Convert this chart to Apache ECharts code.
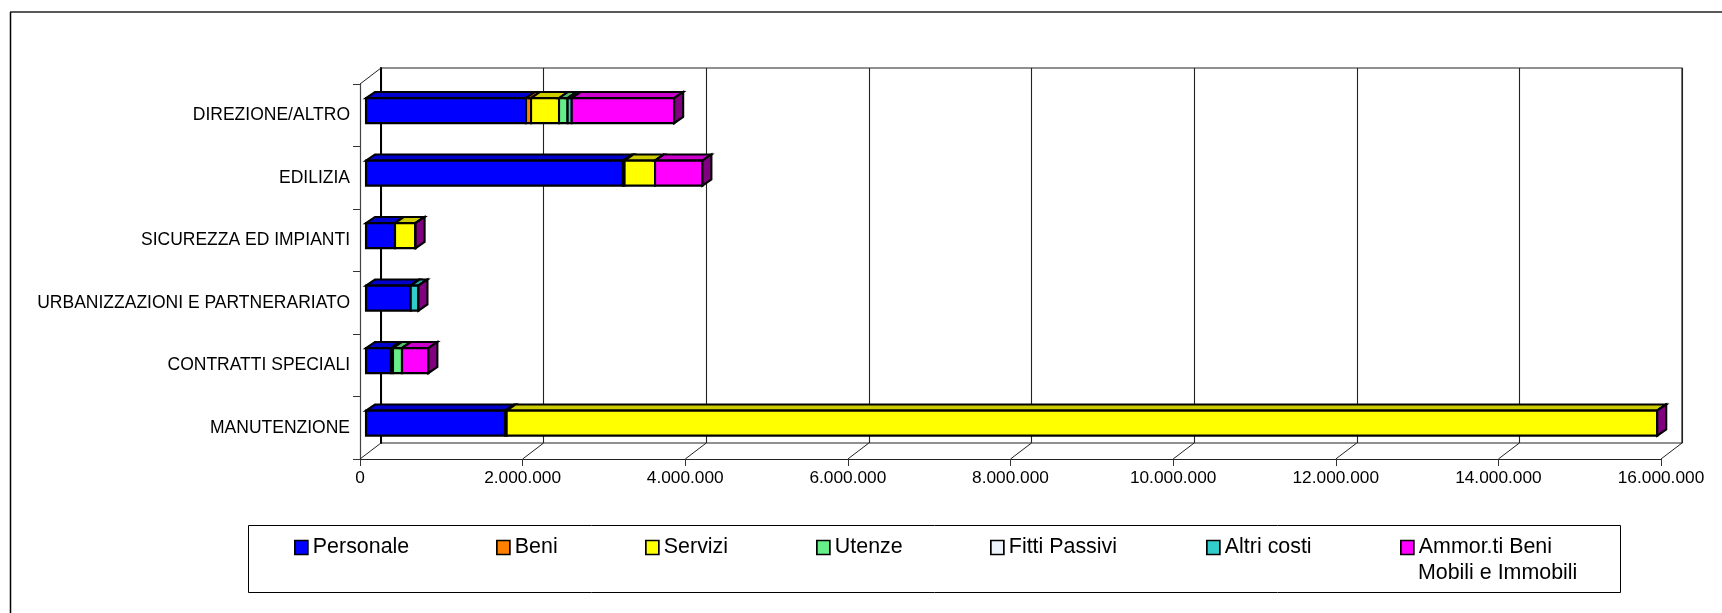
<!DOCTYPE html>
<html><head><meta charset="utf-8">
<style>html,body{margin:0;padding:0;background:#fff}#c{width:1722px;height:613px}</style>
<script src="https://cdn.jsdelivr.net/npm/echarts@6/dist/echarts.min.js"></script>
</head><body><div id="c"></div>
<script>
const categories = ['DIREZIONE/ALTRO','EDILIZIA','SICUREZZA ED IMPIANTI','URBANIZZAZIONI E PARTNERARIATO','CONTRATTI SPECIALI','MANUTENZIONE'];
const tickValues = [0,2000000,4000000,6000000,8000000,10000000,12000000,14000000,16000000];
const personale = [1968000,3160000,357000,550000,307000,1710000];
const beni      = [62000,20000,0,0,25000,20000];
const servizi   = [344000,375000,253000,0,0,14150000];
const utenze    = [106000,0,0,0,111000,0];
const fitti     = [0,0,0,0,0,0];
const altri     = [50000,0,0,95000,0,0];
const ammor     = [1260000,582000,0,0,324000,0];

const names = ['Personale','Beni','Servizi','Utenze','Fitti Passivi','Altri costi','Ammor.ti Beni Mobili e Immobili'];
const values = [personale,beni,servizi,utenze,fitti,altri,ammor];
const fronts = ['#0000FF','#FF8000','#FFFF00','#66EE88','#EEF4FC','#33CCCC','#FF00FF'];
const tops   = ['#0000CC','#CC6600','#CCCC00','#52BE6D','#BEC3CA','#29A3A3','#CC00CC'];
const legendX = [294,496,645,816,990,1206,1400];

const OX=6, OY=-4.6, DX=9, DY=-6.2, WX=21, WY=-16;
const ink = {stroke:'#000',lineWidth:2.1,lineJoin:'miter'};

function stackSeries(i){
  const data = categories.map((c,k)=>{
    let s=0; for(let j=0;j<i;j++) s+=values[j][k];
    return [k,s,s+values[i][k]];
  });
  return {
    type:'custom', name:names[i], xAxisIndex:0, yAxisIndex:0, z:5+i,
    itemStyle:{color:fronts[i]},
    encode:{x:[1,2],y:0},
    clip:false,
    data,
    renderItem(params,api){
      const a=api.coord([api.value(1),api.value(0)]);
      const b=api.coord([api.value(2),api.value(0)]);
      const h=api.size([0,1])[1]*0.4;
      const x0=a[0]+OX,x1=b[0]+OX,y0=a[1]+OY-h/2,y1=y0+h;
      const kids=[
        {type:'polygon',shape:{points:[[x0,y0],[x0+DX,y0+DY],[x1+DX,y0+DY],[x1,y0]]},style:{fill:tops[i],...ink}},
        {type:'rect',shape:{x:x0,y:y0,width:x1-x0,height:h},style:{fill:fronts[i],...ink}}
      ];
      if(i===values.length-1){
        kids.push({type:'polygon',shape:{points:[[x1,y0],[x1+DX,y0+DY],[x1+DX,y1+DY],[x1,y1]]},style:{fill:'#800080',...ink}});
      }
      return {type:'group',children:kids};
    }
  };
}

const floorSeries = {
  type:'custom', xAxisIndex:0, yAxisIndex:0, z:2, silent:true, clip:false,
  data:tickValues.map(v=>[v]),
  encode:{x:0},
  renderItem(params,api){
    const x=api.coord([api.value(0),0])[0];
    const bottom=params.coordSys.y+params.coordSys.height;
    return {type:'line',shape:{x1:x,y1:bottom,x2:x+WX,y2:bottom+WY},style:{stroke:'#222',lineWidth:1}};
  }
};

const chart = echarts.init(document.getElementById('c'),null,{renderer:'canvas'});
chart.setOption({
  animation:false,
  backgroundColor:'#fff',
  textStyle:{fontFamily:'"Liberation Sans",Arial,sans-serif'},
  grid:[
    {left:360,top:84,width:1301,height:375,show:false},
    {left:381,top:68,width:1301,height:375,show:true,borderColor:'#222',borderWidth:1.2,backgroundColor:'transparent',z:0}
  ],
  xAxis:[
    {type:'value',gridIndex:0,min:0,max:16000000,interval:2000000,position:'bottom',
     axisLine:{show:true,onZero:false,lineStyle:{color:'#222',width:1.2}},
     axisTick:{show:true,length:7,inside:false,lineStyle:{color:'#333',width:1}},
     splitLine:{show:false},
     axisLabel:{color:'#000',fontSize:17.3,margin:11,hideOverlap:false,showMinLabel:true,showMaxLabel:true,
       formatter:v=>String(v).replace(/\B(?=(\d{3})+$)/g,'.')}},
    {type:'value',gridIndex:1,min:0,max:16000000,interval:2000000,
     axisLine:{show:false},axisTick:{show:false},axisLabel:{show:false},
     splitLine:{show:true,lineStyle:{color:'#222',width:1.1,type:'solid'}},z:0}
  ],
  yAxis:[
    {type:'category',gridIndex:0,data:categories,inverse:true,
     axisLine:{show:true,onZero:false,lineStyle:{color:'#444',width:1.2}},
     axisTick:{show:true,length:7,lineStyle:{color:'#333',width:1}},
     axisLabel:{color:'#000',fontSize:17.5,margin:10,interval:0}},
    {type:'category',gridIndex:1,data:categories,inverse:true,
     axisLine:{show:true,onZero:false,lineStyle:{color:'#000',width:2}},axisTick:{show:false},axisLabel:{show:false}}
  ],
  legend:names.map((n,i)=>({
    data:[n],left:legendX[i],top:537,icon:'rect',itemWidth:13,itemHeight:14,itemGap:0,padding:0,
    selectedMode:false,
    itemStyle:{borderColor:'#000',borderWidth:1.7},
    textStyle:{color:'#000',fontSize:21.4},
    formatter:name=>name==='Ammor.ti Beni Mobili e Immobili'?'Ammor.ti Beni':name
  })),
  graphic:[
    {type:'line',silent:true,z:1,shape:{x1:10.5,y1:12,x2:10.5,y2:613},style:{stroke:'#000',lineWidth:1.5}},
    {type:'line',silent:true,z:1,shape:{x1:10,y1:12,x2:1722,y2:12},style:{stroke:'#222',lineWidth:1.5}},
    {type:'rect',silent:true,z:1,shape:{x:248.5,y:525.5,width:1372,height:67},style:{fill:'none',stroke:'#000',lineWidth:1}},
    {type:'line',silent:true,z:1,shape:{x1:360,y1:84,x2:381,y2:68},style:{stroke:'#222',lineWidth:1}},
    {type:'text',silent:true,z:3,x:1418,y:563,style:{text:'Mobili e Immobili',fill:'#000',fontSize:21.4,fontFamily:'"Liberation Sans",Arial,sans-serif'}}
  ],
  series:[floorSeries,...names.map((n,i)=>stackSeries(i))]
});
</script></body></html>
